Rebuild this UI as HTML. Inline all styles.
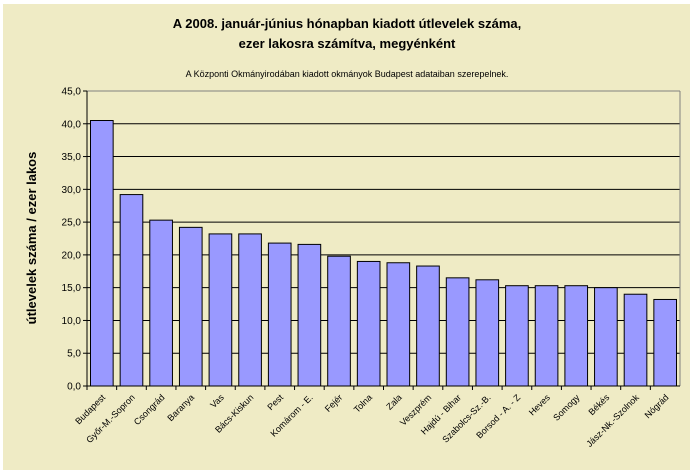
<!DOCTYPE html>
<html><head><meta charset="utf-8"><style>
body{margin:0;background:#fff;width:694px;height:474px;overflow:hidden}
svg{display:block;font-family:"Liberation Sans",sans-serif}
</style></head><body>
<svg width="694" height="474">
<rect x="3" y="4" width="687" height="466" fill="#efebc5"/>
<text x="347" y="28" text-anchor="middle" font-size="13" font-weight="bold">A 2008. január-június hónapban kiadott útlevelek száma,</text>
<text x="347" y="48" text-anchor="middle" font-size="13" font-weight="bold">ezer lakosra számítva, megyénként</text>
<text x="347" y="77" text-anchor="middle" font-size="9">A Központi Okmányirodában kiadott okmányok Budapest adataiban szerepelnek.</text>
<text transform="translate(36,238) rotate(-90)" text-anchor="middle" font-size="13" font-weight="bold">útlevelek száma / ezer lakos</text>
<g id="plot"></g>
</svg>
<script>
const categories=["Budapest","Győr-M.-Sopron","Csongrád","Baranya","Vas","Bács-Kiskun","Pest","Komárom - E.","Fejér","Tolna","Zala","Veszprém","Hajdú - Bihar","Szabolcs-Sz.-B.","Borsod - A. - Z","Heves","Somogy","Békés","Jász-Nk.-Szolnok","Nógrád"];
const values=[40.5,29.2,25.3,24.2,23.2,23.2,21.8,21.6,19.8,19.0,18.8,18.3,16.5,16.2,15.3,15.3,15.3,15.0,14.0,13.2];
const yTicks=[0,5,10,15,20,25,30,35,40,45];
const yTickLabels=["0,0","5,0","10,0","15,0","20,0","25,0","30,0","35,0","40,0","45,0"];
const NS="http://www.w3.org/2000/svg";
const L=87,R=680,T=91,B=386,yMax=45;
const y=v=>B-(v/yMax)*(B-T);
const bw=(R-L)/categories.length;
const x=i=>L+i*bw;
const g=document.getElementById('plot');
function mk(t,a){const e=document.createElementNS(NS,t);for(const k in a)e.setAttribute(k,a[k]);g.appendChild(e);return e;}
yTicks.forEach((t,i)=>{
 const ln=mk('line',{x1:L,x2:R,y1:y(t),y2:y(t),stroke:i==yTicks.length-1?'#808080':'#000','stroke-width':1});
 
 
 const tk=mk('line',{x1:L-4,x2:L,y1:y(t),y2:y(t),stroke:'#000'});
 
 
 const tx=mk('text',{x:L-6,y:y(t)+3.5,'text-anchor':'end','font-size':10});
 tx.textContent=yTickLabels[i];
 
 
});
const rb=mk('line',{x1:R,x2:R,y1:T,y2:B,stroke:'#808080'});


values.forEach((v,i)=>{
 const r=mk('rect',{x:x(i)+3.5,y:y(v),width:bw-7,height:B-y(v),fill:'#9999ff',stroke:'#000','stroke-width':1});
 
 
 const tk=mk('line',{x1:x(i),x2:x(i),y1:B,y2:B+4,stroke:'#000'});
 
 
 const cx=x(i)+bw/2+4;
 const tx=mk('text',{x:cx,y:B+12,'text-anchor':'end','font-size':9,transform:`rotate(-45 ${cx} ${B+12})`});
 tx.textContent=categories[i];
 
 
});
const ya=mk('line',{x1:L,x2:L,y1:T,y2:B,stroke:'#000'});


const xa=mk('line',{x1:L,x2:R,y1:B,y2:B,stroke:'#000'});


</script>
</body></html>
